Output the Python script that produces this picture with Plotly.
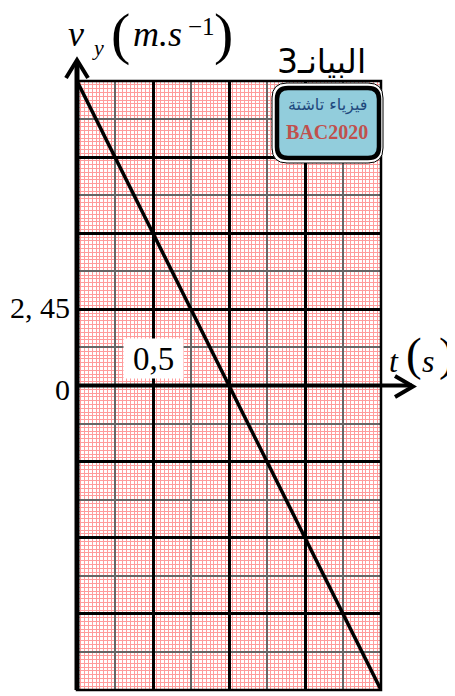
import plotly.graph_objects as go

# ── Données ──────────────────────────────────────────────────────────────────
t_s = [0.0, 1.0, 2.0]            # temps (s)
vy = [9.8, 0.0, -9.8]            # vitesse verticale (m/s)

t_range = [0, 2]
v_range = [-9.8, 9.8]
t_steps = [0.025, 0.25, 0.5]     # fin / moyen / gros quadrillage
v_steps = [0.1225, 1.225, 2.45]

v_tick_label = "2, 45"
t_tick_label = "0,5"
zero_label = "0"
title_ar = "البيانـ3"
logo_ar = "فيزياء تاشتة"
logo_bac = "BAC2020"

# ── Géométrie (pixels de la page ; le <body> décale la figure de 8 px) ───────
PAGE_W, PAGE_H, BODY = 455, 696, 8
X0, X1, Y0, Y1 = 77, 381, 81, 690          # zone de tracé sur la page
W, H = PAGE_W - BODY, PAGE_H - BODY
PW, PH = X1 - X0, Y1 - Y0


def px(x):
    return (x - X0) / PW


def py(y):
    return (Y1 - y) / PH


SERIF = "Liberation Serif"
ARAB = "DejaVu Sans"

grid_styles = [("#ff9c9c", 1), ("#666666", 1.5), ("black", 2.5)]


def grid_axis(rng, dtick, color, width, **kw):
    return dict(range=rng, dtick=dtick, tick0=0, showgrid=True,
                gridcolor=color, gridwidth=width, showticklabels=False,
                ticks="", zeroline=False, showline=False, fixedrange=True, **kw)


fig = go.Figure()
layout_axes = {}
for i, ((col, wd), dt, dv) in enumerate(zip(grid_styles, t_steps, v_steps)):
    sfx = "" if i == 0 else str(i + 1)
    extra_x = {} if i == 0 else dict(overlaying="x")
    extra_y = {} if i == 0 else dict(overlaying="y")
    layout_axes["xaxis" + sfx] = grid_axis(t_range, dt, col, wd, **extra_x)
    layout_axes["yaxis" + sfx] = grid_axis(v_range, dv, col, wd, **extra_y)
    if i < 2:
        fig.add_trace(go.Scatter(x=[], y=[], xaxis="x" + sfx, yaxis="y" + sfx,
                                 showlegend=False, hoverinfo="skip"))

fig.add_trace(go.Scatter(x=t_s, y=vy, mode="lines", xaxis="x3", yaxis="y3",
                         line=dict(color="black", width=3.5),
                         showlegend=False, hoverinfo="skip"))

# ── Axes fléchés et cadre ────────────────────────────────────────────────────
shapes = [
    dict(type="rect", xref="paper", yref="paper", x0=0, x1=1, y0=0, y1=1,
         line=dict(color="black", width=2.5)),
    dict(type="line", xref="paper", yref="paper", x0=0, x1=0, y0=0,
         y1=py(61), line=dict(color="black", width=5)),
    dict(type="path", xref="paper", yref="paper",
         path=f"M{px(66)},{py(78)} L{px(77)},{py(60)} L{px(88)},{py(78)}",
         line=dict(color="black", width=4)),
    dict(type="line", xref="paper", yref="paper", x0=0, x1=px(412), y0=0.5,
         y1=0.5, line=dict(color="black", width=4)),
    dict(type="path", xref="paper", yref="paper",
         path=f"M{px(395)},{py(376)} L{px(413)},{py(386.5)} L{px(395)},{py(397)}",
         line=dict(color="black", width=4)),
]


def rounded(x0, y0, x1, y1, r):
    rx, ry = r / PW, r / PH
    a, b, c, d = px(x0), py(y1), px(x1), py(y0)
    return (f"M{a + rx},{b} L{c - rx},{b} Q{c},{b} {c},{b + ry} "
            f"L{c},{d - ry} Q{c},{d} {c - rx},{d} L{a + rx},{d} "
            f"Q{a},{d} {a},{d - ry} L{a},{b + ry} Q{a},{b} {a + rx},{b} Z")


shapes += [
    dict(type="path", xref="paper", yref="paper", path=rounded(272, 83, 383, 163, 15),
         fillcolor="white", line=dict(color="black", width=1)),
    dict(type="path", xref="paper", yref="paper", path=rounded(277, 88, 379, 158, 11),
         fillcolor="#92cddc", line=dict(color="black", width=4.5)),
]


def note(text, x, y, size, font=SERIF, color="black", **kw):
    return dict(text=text, x=px(x), y=py(y), xref="paper", yref="paper",
                showarrow=False, xanchor=kw.pop("xanchor", "center"),
                yanchor="middle", font=dict(family=font, size=size, color=color),
                **kw)


annotations = [
    note("<i>v</i>", 76, 34, 36),
    note("<i>y</i>", 98, 48, 22),
    note("(", 120.5, 33, 58),
    note("<i>m.s</i>", 157.5, 34, 36),
    note("−1", 201, 26, 25),
    note(")", 223.5, 33, 58),
    note(title_ar, 321, 61, 33, font=ARAB),
    note(logo_ar, 327, 105, 16, font=ARAB, color="#1f497d"),
    note(f"<b>{logo_bac}</b>", 327, 132, 20, color="#c0504d"),
    note(v_tick_label, 72, 307, 30, xanchor="right"),
    note(zero_label, 62, 390, 30),
    note(t_tick_label, 153.5, 358.5, 33, bgcolor="white", width=57, height=37),
    note("<i>t</i>", 394, 361, 32),
    note("(", 414, 354, 47),
    note("<i>s</i>", 428, 361, 32),
    note(")", 447, 354, 47),
]

fig.update_layout(
    width=W, height=H, margin=dict(l=X0 - BODY, r=PAGE_W - X1, t=Y0 - BODY,
                                   b=PAGE_H - Y1),
    paper_bgcolor="white", plot_bgcolor="white",
    shapes=shapes, annotations=annotations, **layout_axes,
)

fig.write_html("out.html")
